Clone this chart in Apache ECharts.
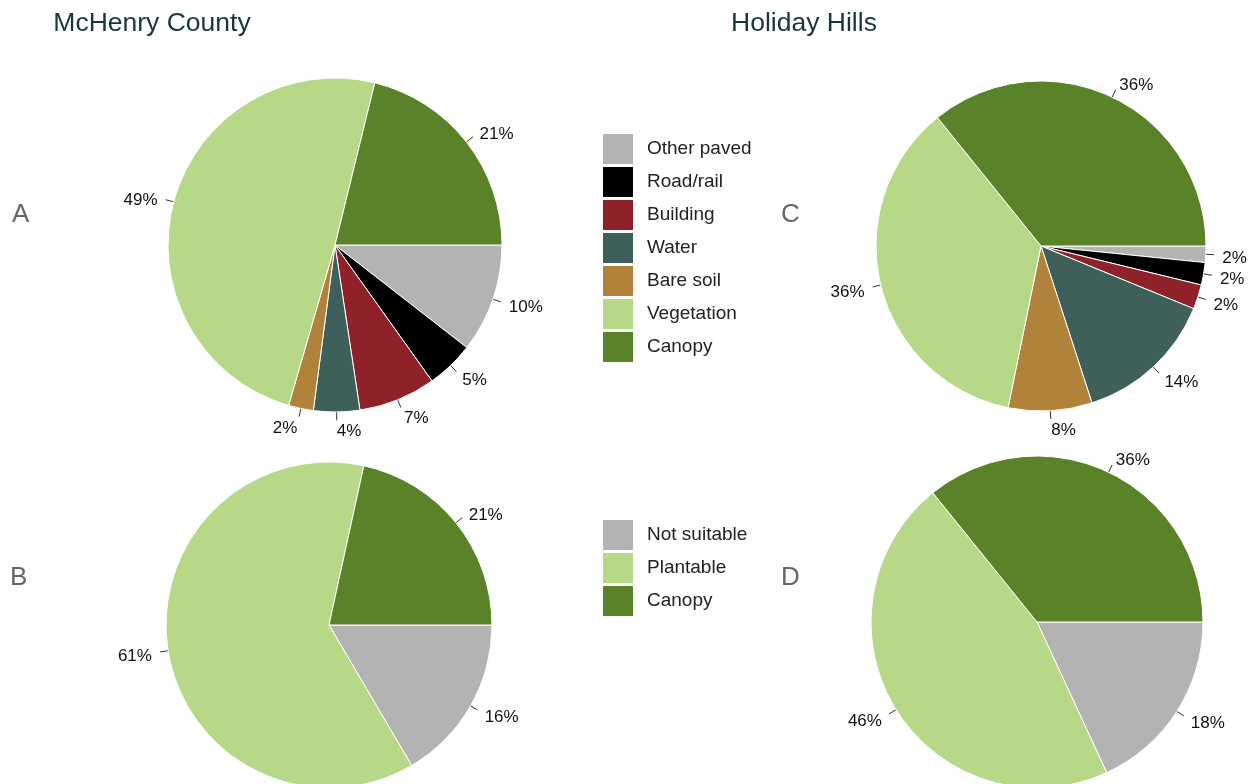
<!DOCTYPE html>
<html>
<head>
<meta charset="utf-8">
<script src="https://cdn.jsdelivr.net/npm/echarts@6/dist/echarts.min.js"></script>
<style>
  html, body { margin: 0; padding: 0; background: #fff; }
  #chart { width: 1251px; height: 784px; }
</style>
</head>
<body>
<div id="chart"></div>
<script>
// Catégories et valeurs (en %)
const coverNames = ['Other paved', 'Road/rail', 'Building', 'Water', 'Bare soil', 'Vegetation', 'Canopy'];
const coverColors = ['#b3b3b3', '#000000', '#8e2228', '#3e5f5a', '#b0823a', '#b7d887', '#5a8228'];
const mchenryCover = [10.49, 4.6, 7.45, 4.45, 2.4, 49.2, 21.1];
const holidayCover = [1.6, 2.2, 2.4, 13.8, 8.2, 36.0, 35.8];

const plantNames = ['Not suitable', 'Plantable', 'Canopy'];
const plantColors = ['#b3b3b3', '#b7d887', '#5a8228'];
const mchenryPlant = [16.4, 61.4, 21.4];
const holidayPlant = [18.1, 46.1, 35.8];

const FONT = "'Liberation Sans', Arial, sans-serif";

const chart = echarts.init(document.getElementById('chart'));

function toData(names, values, colors) {
    return names.map((n, i) => ({ name: n, value: values[i], itemStyle: { color: colors[i] } }));
}

function pie(center, radius, data) {
    return {
        type: 'pie',
        center: center,
        radius: radius,
        startAngle: 0,
        clockwise: true,
        avoidLabelOverlap: false,
        animation: false,
        itemStyle: { borderColor: '#fff', borderWidth: 1 },
        label: {
            show: true,
            position: 'outside',
            formatter: p => Math.round(p.value) + '%',
            fontSize: 17,
            color: '#111',
            fontFamily: FONT
        },
        labelLine: { show: true, length: 8, length2: 1, lineStyle: { color: '#333', width: 1 } },
        // étiquettes à 1.1 R, trait de R à 1.05 R (style pie() de R)
        labelLayout: function (p) {
            const pts = p.labelLinePoints;
            if (!pts) return {};
            const dx = pts[0][0] - center[0];
            const dy = pts[0][1] - center[1];
            const d = Math.hypot(dx, dy) || 1;
            const ux = dx / d, uy = dy / d;
            const end = [center[0] + 1.05 * radius * ux, center[1] + 1.05 * radius * uy];
            return {
                x: center[0] + 1.1 * radius * ux,
                y: center[1] + 1.1 * radius * uy + 3,
                align: ux < 0 ? 'right' : 'left',
                verticalAlign: 'middle',
                labelLinePoints: [[center[0] + radius * ux, center[1] + radius * uy], end, end]
            };
        },
        emphasis: { disabled: true },
        data: data
    };
}

function letter(t, x, y) {
    return {
        type: 'text', x: x, y: y,
        style: { text: t, fontSize: 26, fill: '#666', fontFamily: FONT, verticalAlign: 'middle', textVerticalAlign: 'middle' }
    };
}

function legend(names, top) {
    return {
        data: names, orient: 'vertical', left: 603, top: top, padding: 0,
        icon: 'rect', itemWidth: 30, itemHeight: 30, itemGap: 3,
        selectedMode: false,
        itemStyle: { borderWidth: 0 },
        textStyle: { fontSize: 19, color: '#222', padding: [4, 0, 0, 9], fontFamily: FONT }
    };
}

const options = {
    title: [
        { text: 'McHenry County', left: 152, top: 10, textAlign: 'center', padding: 0,
          textStyle: { fontSize: 26.5, fontWeight: 'normal', color: '#17363d', fontFamily: FONT } },
        { text: 'Holiday Hills', left: 804, top: 10, textAlign: 'center', padding: 0,
          textStyle: { fontSize: 26.5, fontWeight: 'normal', color: '#17363d', fontFamily: FONT } }
    ],
    graphic: [
        letter('A', 12, 215),
        letter('B', 10, 578),
        letter('C', 781, 215),
        letter('D', 781, 578)
    ],
    legend: [
        legend(coverNames, 134),
        legend(plantNames, 520)
    ],
    series: [
        pie([335, 245], 167, toData(coverNames, mchenryCover, coverColors)),
        pie([1041, 246], 165, toData(coverNames, holidayCover, coverColors)),
        pie([329, 625], 163, toData(plantNames, mchenryPlant, plantColors)),
        pie([1037, 622], 166, toData(plantNames, holidayPlant, plantColors))
    ]
};

chart.setOption(options);

window.addEventListener('resize', () => {
    chart.resize();
});
</script>
</body>
</html>
